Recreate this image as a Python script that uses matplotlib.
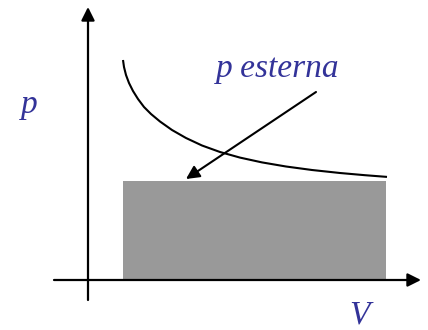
import matplotlib
matplotlib.use("Agg")
import matplotlib.pyplot as plt

# Data (origin at the axes crossing; units ~ pixels)
curve_V = [35, 36, 38, 41, 45, 50, 56, 63, 72, 84, 98, 114, 132, 152, 174, 198, 224, 252, 277, 299]
curve_p = [220, 213, 205, 197, 189, 181, 173, 166, 158.5, 150, 142, 134.5, 128, 122.4, 117.6,
           113.5, 110, 107, 104.8, 103.1]
V_i, V_f = 35, 298
p_ext = 99
label_text = "p esterna"
arrow_start = (228, 188)
arrow_end = (98, 101)

txt_color = "#333399"

fig = plt.figure(figsize=(4.28, 3.30), dpi=100)
ax = fig.add_axes([0, 0, 1, 1])
ax.set_xlim(-88, 340)
ax.set_ylim(-50, 280)
ax.axis("off")

# shaded work rectangle
ax.fill_between([V_i, V_f], 0, p_ext, color="#999999", linewidth=0, zorder=1)

# isotherm curve
ax.plot(curve_V, curve_p, color="black", lw=1.5, solid_joinstyle="round",
        solid_capstyle="butt", zorder=3)

# axes with arrows
ax.annotate("", xy=(333, 0), xytext=(-34, 0),
            arrowprops=dict(arrowstyle="-|>", color="black", lw=1.6,
                            mutation_scale=20, shrinkA=0, shrinkB=0), zorder=4)
ax.annotate("", xy=(0, 273), xytext=(0, -20),
            arrowprops=dict(arrowstyle="-|>", color="black", lw=1.6,
                            mutation_scale=20, shrinkA=0, shrinkB=0), zorder=4)

# pointer arrow
ax.annotate("", xy=arrow_end, xytext=arrow_start,
            arrowprops=dict(arrowstyle="-|>", color="black", lw=1.5,
                            mutation_scale=20, shrinkA=0, shrinkB=0), zorder=5)

font = dict(family="Liberation Serif", style="italic", size=24, color=txt_color)
ax.text(190, 203, label_text, ha="center", va="baseline", **font)
ax.text(-59, 175, "p", ha="center", va="center", **font)
ax.text(271, -35, "V", ha="center", va="center", **font)

fig.savefig("out.png", dpi=100)
